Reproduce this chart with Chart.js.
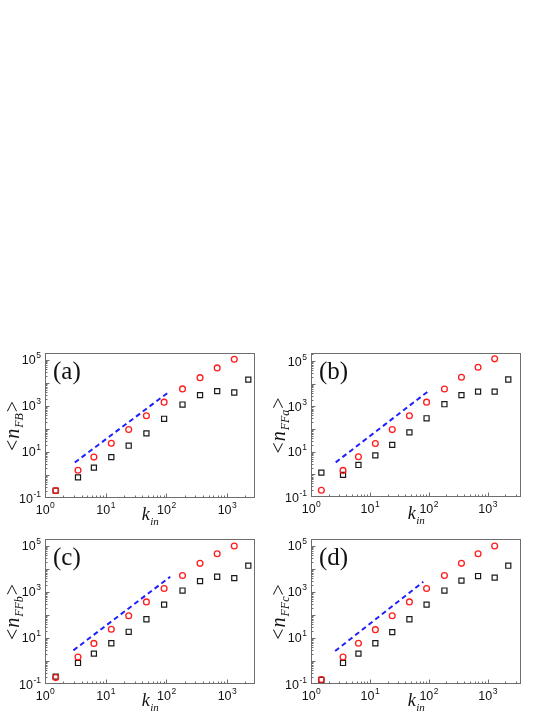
<!DOCTYPE html>
<html>
<head>
<meta charset="utf-8">
<script src="https://cdn.jsdelivr.net/npm/chart.js@4.4.0/dist/chart.umd.min.js"></script>
<style>
    body { margin: 0; background: #fff; }
    #page { position: relative; width: 554px; height: 717px; overflow: hidden; background: #fff; }
    canvas { position: absolute; }
</style>
</head>
<body>
<div id="page">
    <canvas id="chartA" width="277" height="200" style="left:0px;top:330px"></canvas>
    <canvas id="chartB" width="292" height="200" style="left:262px;top:330px"></canvas>
    <canvas id="chartC" width="277" height="187" style="left:0px;top:530px"></canvas>
    <canvas id="chartD" width="292" height="187" style="left:262px;top:530px"></canvas>
</div>
<script>
const kIn = [1.5, 3.5, 6.4, 12.4, 24, 47, 92, 185, 360, 690, 1320, 2250];
const xTickExps = [0, 1, 2, 3];
const yTickExps = [-1, 1, 3, 5];

const redA = [0.21, 1.6, 6.0, 24, 95, 375, 1460, 5500, 17000, 45000, 107000];
const blackA = [0.21, 0.79, 2.1, 6.0, 18.7, 64, 277, 1150, 2940, 4400, 3840, 14000];
const redB = [0.2, 1.5, 6.0, 23, 95, 390, 1550, 5900, 19500, 54000, 127000];
const blackB = [1.2, 0.95, 2.6, 6.9, 20, 72, 300, 1260, 3160, 4500, 4500, 15500];
const redC = [0.19, 1.5, 5.8, 24, 92, 370, 1420, 5200, 17500, 46000, 100000];
const blackC = [0.21, 0.82, 2.1, 5.9, 18.6, 65, 282, 1150, 2960, 4570, 4000, 13800];
const redD = [0.155, 1.5, 5.9, 23, 92, 370, 1420, 5200, 17500, 46000, 100000];
const blackD = [0.15, 0.82, 2.1, 5.9, 18, 65, 282, 1150, 3100, 4900, 4200, 13800];

const fitXA = [3.1, 115];
const fitYA = [3.5, 4400];
const fitXB = [2.63, 95];
const fitYB = [3.4, 4400];
const fitXC = [2.94, 116];
const fitYC = [2.9, 4570];
const fitXD = [2.57, 81];
const fitYD = [2.7, 2760];

const panelLabels = ['(a)', '(b)', '(c)', '(d)'];
const ySubs = ['FB', 'FFa', 'FFb', 'FFc'];

const SANS = '"Liberation Sans", Arial, sans-serif';
const SERIF = '"Liberation Serif", "Times New Roman", serif';

function toPoints(xs, ys) {
    return ys.map((y, i) => ({ x: xs[i], y: y }));
}

function drawPower(ctx, exp, x, y, align) {
    const base = '10';
    const sup = String(exp);
    ctx.font = '12.5px ' + SANS;
    const bw = ctx.measureText(base).width;
    ctx.font = '8.5px ' + SANS;
    const sw = ctx.measureText(sup).width;
    const left = align === 'right' ? x - bw - sw - 0.5 : x - (bw + sw) / 2;
    ctx.textAlign = 'left';
    ctx.textBaseline = 'alphabetic';
    ctx.font = '12.5px ' + SANS;
    ctx.fillText(base, left, y);
    ctx.font = '8.5px ' + SANS;
    ctx.fillText(sup, left + bw + 0.5, y - 6);
}

const axisDecor = {
    id: 'axisDecor',
    beforeDatasetsDraw(chart, args, opts) {
        const ctx = chart.ctx;
        const area = chart.chartArea;
        const xs = chart.scales.x;
        const ys = chart.scales.y;
        ctx.save();
        ctx.strokeStyle = '#6e6e6e';
        ctx.lineWidth = 1;
        ctx.strokeRect(area.left + 0.5, area.top + 0.5, area.right - area.left - 1, area.bottom - area.top - 1);

        ctx.beginPath();
        for (let e = -2; e <= 6; e++) {
            for (let m = 1; m < 10; m++) {
                const v = m * Math.pow(10, e);
                const len = m === 1 ? 4.5 : 2.5;
                if (v > xs.min * 1.001 && v < xs.max) {
                    const px = Math.round(xs.getPixelForValue(v)) + 0.5;
                    ctx.moveTo(px, area.bottom);
                    ctx.lineTo(px, area.bottom - len);
                }
                if (v > ys.min * 1.001 && v < ys.max) {
                    const py = Math.round(ys.getPixelForValue(v)) + 0.5;
                    ctx.moveTo(area.left, py);
                    ctx.lineTo(area.left + len, py);
                }
            }
        }
        ctx.stroke();

        ctx.fillStyle = '#111';
        xTickExps.forEach((e) => {
            drawPower(ctx, e, xs.getPixelForValue(Math.pow(10, e)), area.bottom + 16, 'center');
        });
        yTickExps.forEach((e) => {
            drawPower(ctx, e, area.left - 4, ys.getPixelForValue(Math.pow(10, e)) + 4.5, 'right');
        });

        // panel letter
        ctx.font = '25px ' + SERIF;
        ctx.textAlign = 'left';
        ctx.fillText(opts.label, area.left + 8, area.top + 25.5);

        // x title k_in
        ctx.font = 'italic 18px ' + SERIF;
        const kw = ctx.measureText('k').width;
        ctx.font = 'italic 11px ' + SERIF;
        const iw = ctx.measureText('in').width;
        const kx = (area.left + area.right) / 2 - (kw + iw) / 2;
        ctx.font = 'italic 18px ' + SERIF;
        ctx.fillText('k', kx, area.bottom + 22);
        ctx.font = 'italic 11px ' + SERIF;
        ctx.fillText('in', kx + kw + 0.5, area.bottom + 26.5);

        // y title <n_sub>
        const parts = [
            { t: '<', f: '20px ' + SERIF, dy: 0 },
            { t: 'n', f: 'italic 20px ' + SERIF, dy: 0 },
            { t: opts.sub, f: 'italic 12px ' + SERIF, dy: 4 },
            { t: '>', f: '20px ' + SERIF, dy: 0 },
        ];
        let total = 0;
        parts.forEach((p) => {
            ctx.font = p.f;
            p.w = ctx.measureText(p.t).width;
            total += p.w + 1;
        });
        ctx.translate(area.left - 26.5, (area.top + area.bottom) / 2);
        ctx.rotate(-Math.PI / 2);
        let cx = -total / 2;
        parts.forEach((p) => {
            ctx.font = p.f;
            ctx.fillText(p.t, cx, p.dy);
            cx += p.w + 1;
        });
        ctx.restore();
    },
};

const panels = [
    { id: 'chartA', red: redA, black: blackA, fx: fitXA, fy: fitYA, xMax: 2900, yMax: 2e5, pad: { left: 45, right: 22, top: 23, bottom: 32 } },
    { id: 'chartB', red: redB, black: blackB, fx: fitXB, fy: fitYB, xMax: 3700, yMax: 2.3e5, pad: { left: 49, right: 33, top: 23, bottom: 33 } },
    { id: 'chartC', red: redC, black: blackC, fx: fitXC, fy: fitYC, xMax: 2900, yMax: 2e5, pad: { left: 45, right: 22, top: 9, bottom: 33 } },
    { id: 'chartD', red: redD, black: blackD, fx: fitXD, fy: fitYD, xMax: 3700, yMax: 2e5, pad: { left: 49, right: 33, top: 9, bottom: 33 } },
];

const hiddenAxis = (min, max) => ({
    type: 'logarithmic',
    min: min,
    max: max,
    bounds: 'data',
    grid: { display: false, drawTicks: false },
    border: { display: false },
    ticks: { display: false },
    title: { display: false },
});

panels.forEach((p, i) => {
    new Chart(document.getElementById(p.id), {
        type: 'scatter',
        data: {
            datasets: [
                {
                    label: 'red',
                    data: toPoints(kIn, p.red),
                    pointStyle: 'circle',
                    pointRadius: 2.9,
                    borderWidth: 1.3,
                    borderColor: '#ff1c1c',
                    backgroundColor: 'rgba(0,0,0,0)',
                    clip: false,
                },
                {
                    label: 'black',
                    data: toPoints(kIn, p.black),
                    pointStyle: 'rect',
                    pointRadius: 3.6,
                    borderWidth: 1.2,
                    borderColor: '#1a1a1a',
                    backgroundColor: 'rgba(0,0,0,0)',
                    clip: false,
                },
                {
                    label: 'fit',
                    data: toPoints(p.fx, p.fy),
                    showLine: true,
                    pointRadius: 0,
                    borderColor: '#1f1fff',
                    borderWidth: 2,
                    borderDash: [5, 3.5],
                    fill: false,
                },
            ],
        },
        options: {
            responsive: false,
            animation: false,
            events: [],
            devicePixelRatio: 1,
            layout: { padding: p.pad },
            scales: {
                x: hiddenAxis(1, p.xMax),
                y: hiddenAxis(0.1, p.yMax),
            },
            plugins: {
                legend: { display: false },
                tooltip: { enabled: false },
                axisDecor: { label: panelLabels[i], sub: ySubs[i] },
            },
        },
        plugins: [axisDecor],
    });
});
</script>
</body>
</html>
